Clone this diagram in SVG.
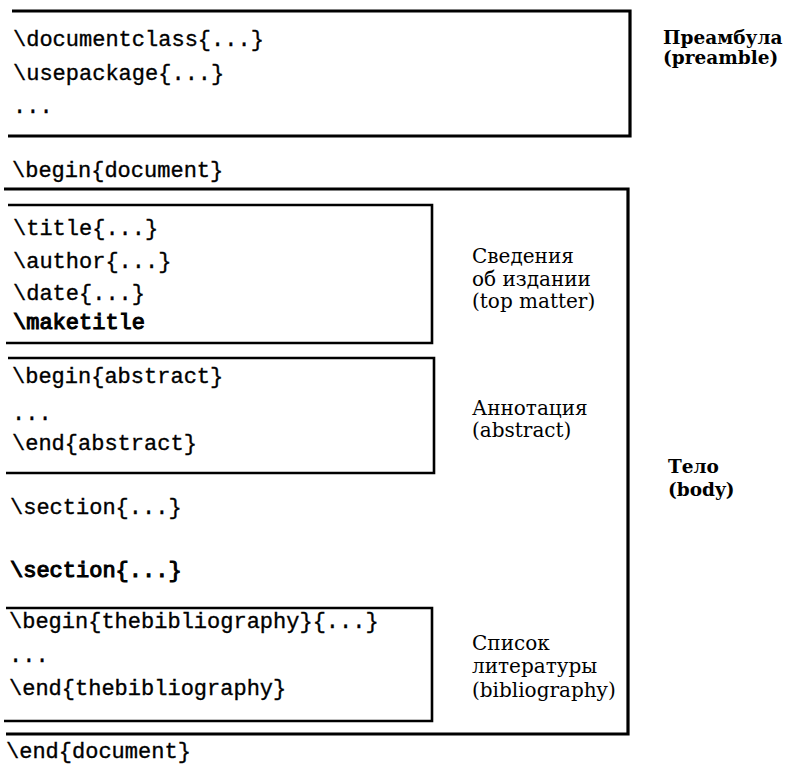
<svg xmlns="http://www.w3.org/2000/svg" width="793" height="765" viewBox="0 0 793 765">
<style>
.bg{fill:#fff}
.outer{fill:none;stroke:#000;stroke-width:3.2;stroke-linejoin:miter}
.inner{fill:none;stroke:#000;stroke-width:2.6;stroke-linejoin:miter}
.code{font-family:"Liberation Mono","DejaVu Sans Mono",monospace;font-size:22px;fill:#000;stroke:#000;stroke-width:0.35}
.codeb{font-family:"Liberation Mono","DejaVu Sans Mono",monospace;font-size:22px;fill:#000;stroke:#000;stroke-width:1.1}
.lab{font-family:"DejaVu Serif","Liberation Serif",serif;font-size:20px;fill:#000}
.labb{font-family:"DejaVu Serif","Liberation Serif",serif;font-size:18.5px;font-weight:bold;fill:#000}
</style>
<rect class="bg" x="0" y="0" width="793" height="765"/>
<g id="connectors"></g>
<g id="preamble">
<path class="outer" d="M12 11 H630 V136 H8"/>
<text class="code" x="13" y="46">\documentclass{...}</text>
<text class="code" x="13" y="80">\usepackage{...}</text>
<text class="code" x="13" y="113">...</text>
<text class="labb" x="663" y="44">Преамбула</text>
<text class="labb" x="663" y="64">(preamble)</text>
</g>
<g id="begin-document">
<text class="code" x="12" y="177">\begin{document}</text>
</g>
<g id="body">
<path class="outer" d="M4 189 H628 V734 H6"/>
<text class="labb" x="668" y="473">Тело</text>
<text class="labb" x="668" y="496">(body)</text>
</g>
<g id="topmatter">
<path class="inner" d="M8 205 H432 V343 H6"/>
<text class="code" x="13" y="235">\title{...}</text>
<text class="code" x="13" y="268">\author{...}</text>
<text class="code" x="13" y="300">\date{...}</text>
<text class="codeb" x="13" y="329">\maketitle</text>
<text class="lab" x="472" y="263">Сведения</text>
<text class="lab" x="472" y="286">об издании</text>
<text class="lab" x="472" y="308">(top matter)</text>
</g>
<g id="abstract">
<path class="inner" d="M8 358 H434 V473 H6"/>
<text class="code" x="12" y="383">\begin{abstract}</text>
<text class="code" x="12" y="420">...</text>
<text class="code" x="12" y="450">\end{abstract}</text>
<text class="lab" x="472" y="415">Аннотация</text>
<text class="lab" x="472" y="437">(abstract)</text>
</g>
<g id="sections">
<text class="code" x="10" y="514">\section{...}</text>
<text class="codeb" x="10" y="577">\section{...}</text>
</g>
<g id="bibliography">
<path class="inner" d="M6 608 H432 V721 H4"/>
<text class="code" x="9" y="628">\begin{thebibliography}{...}</text>
<text class="code" x="9" y="662">...</text>
<text class="code" x="9" y="695">\end{thebibliography}</text>
<text class="lab" x="472" y="650">Список</text>
<text class="lab" x="472" y="673">литературы</text>
<text class="lab" x="472" y="697">(bibliography)</text>
</g>
<g id="end-document">
<text class="code" x="6" y="758">\end{document}</text>
</g>
</svg>
